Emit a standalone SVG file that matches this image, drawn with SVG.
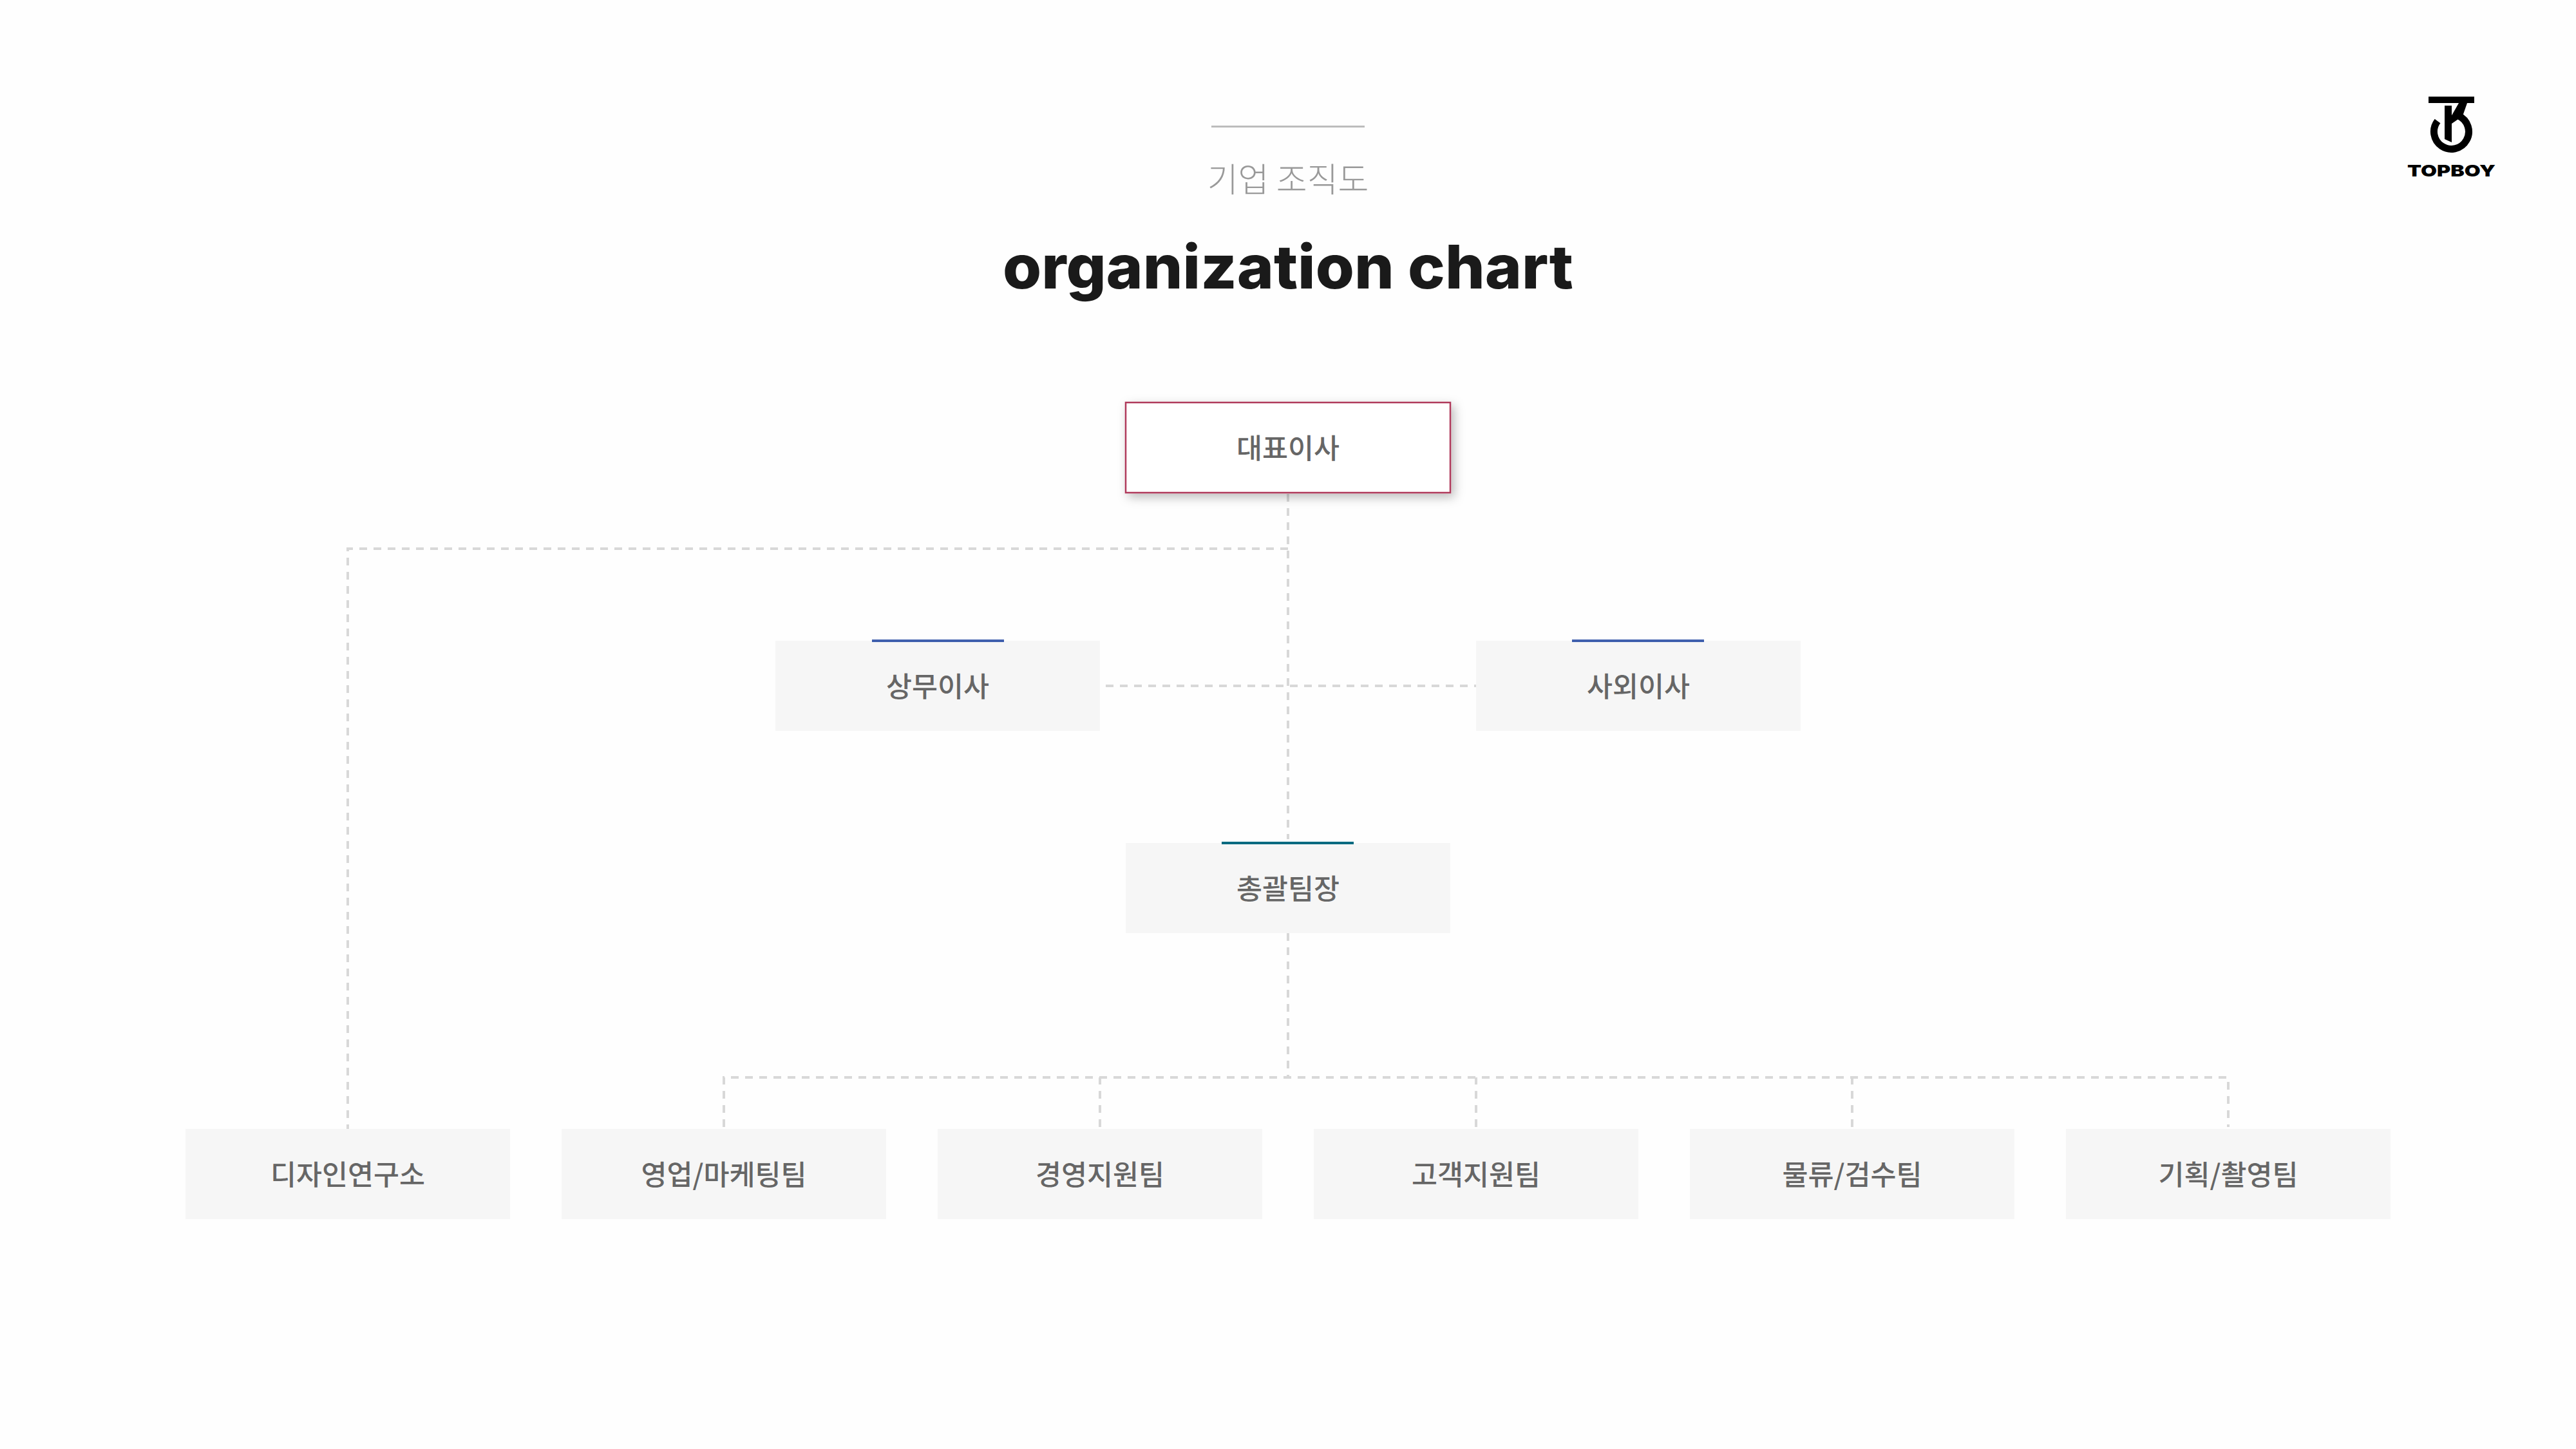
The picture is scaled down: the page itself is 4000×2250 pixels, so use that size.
<svg xmlns="http://www.w3.org/2000/svg" width="4000" height="2250" viewBox="0 0 4000 2250">
<defs>
<filter id="shadow" x="-10%" y="-20%" width="120%" height="150%"><feDropShadow dx="5" dy="6" stdDeviation="8" flood-color="#000" flood-opacity="0.26"/></filter>
</defs>
<style>
.lbl{font-family:"Noto Sans CJK KR","Noto Sans",sans-serif;font-size:43.500px;font-weight:500;fill:#666;text-anchor:middle}
.box{fill:#f6f6f6}
.conn{fill:none;stroke:#d8d8d8;stroke-width:4;stroke-dasharray:12 10}
</style>
<rect width="4000" height="2250" fill="#fefefe"/>
<g id="header">
<rect x="1881" y="195" width="238" height="3" fill="#bcbcbc"/>
<text x="2000" y="298" font-family="'Noto Sans CJK KR',sans-serif" font-size="52" font-weight="300" fill="#999" text-anchor="middle">기업 조직도</text>
<text x="2000" y="448" font-family="Inter,'Liberation Sans',sans-serif" font-size="94" font-weight="800" fill="#1a1a1a" text-anchor="middle" textLength="886" lengthAdjust="spacingAndGlyphs">organization chart</text>
</g>
<g id="logo">
<rect x="3771" y="150" width="71" height="10" fill="#000"/>
<path d="M3796 164H3807V221L3796 216Z" fill="#000"/>
<path d="M3806 181L3818 160H3831L3824 180L3807 192Z" fill="#000"/>
<path d="M3785 188A27 27 0 1 0 3818 180" fill="none" stroke="#000" stroke-width="11"/>
<text x="3806.500" y="274" font-family="Inter,sans-serif" font-size="25" font-weight="900" fill="#000" text-anchor="middle" textLength="137" lengthAdjust="spacingAndGlyphs">TOPBOY</text>
</g>
<g id="connectors">
<path class="conn" d="M2000 767V1303"/>
<path class="conn" d="M2000 852H540V1753"/>
<path class="conn" d="M1717 1065H2292"/>
<path class="conn" d="M2000 1449V1673"/>
<path class="conn" d="M1124 1750V1673H3460V1750"/>
<path class="conn" d="M1708 1750V1673"/>
<path class="conn" d="M2292 1750V1673"/>
<path class="conn" d="M2876 1750V1673"/>
</g>
<g id="ceo"><rect x="1748" y="625" width="504" height="140" fill="#fff" stroke="#b03a5b" stroke-width="2.500" filter="url(#shadow)"/><text class="lbl" x="2000" y="712">대표이사</text></g>
<g id="exec-left"><rect class="box" x="1204" y="995" width="504" height="140"/><rect x="1354" y="993" width="205" height="4" fill="#3f5fad"/><text class="lbl" x="1456" y="1082">상무이사</text></g>
<g id="exec-right"><rect class="box" x="2292" y="995" width="504" height="140"/><rect x="2441" y="993" width="205" height="4" fill="#3f5fad"/><text class="lbl" x="2544" y="1082">사외이사</text></g>
<g id="lead"><rect class="box" x="1748" y="1309" width="504" height="140"/><rect x="1897" y="1307" width="205" height="4" fill="#006a80"/><text class="lbl" x="2000" y="1396">총괄팀장</text></g>
<g id="team1"><rect class="box" x="288" y="1753" width="504" height="140"/><text class="lbl" x="540" y="1840">디자인연구소</text></g>
<g id="team2"><rect class="box" x="872" y="1753" width="504" height="140"/><text class="lbl" x="1124" y="1840">영업/마케팅팀</text></g>
<g id="team3"><rect class="box" x="1456" y="1753" width="504" height="140"/><text class="lbl" x="1708" y="1840">경영지원팀</text></g>
<g id="team4"><rect class="box" x="2040" y="1753" width="504" height="140"/><text class="lbl" x="2292" y="1840">고객지원팀</text></g>
<g id="team5"><rect class="box" x="2624" y="1753" width="504" height="140"/><text class="lbl" x="2876" y="1840">물류/검수팀</text></g>
<g id="team6"><rect class="box" x="3208" y="1753" width="504" height="140"/><text class="lbl" x="3460" y="1840">기획/촬영팀</text></g>
</svg>
